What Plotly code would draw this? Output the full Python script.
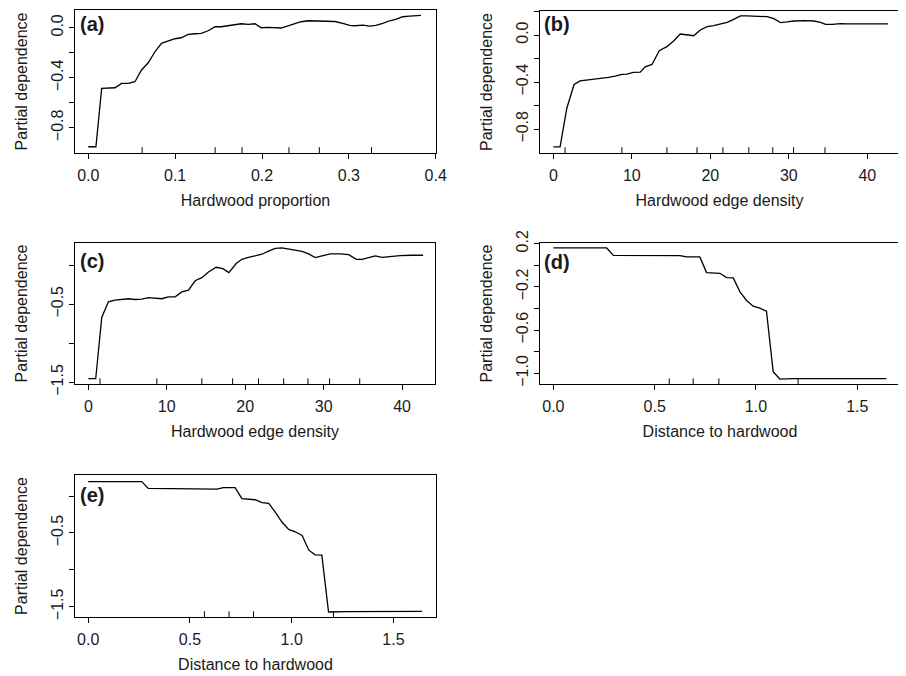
import plotly.graph_objects as go

# The page adds an 8px body margin, so the figure is drawn 8px smaller and
# every pixel position below is measured in reference-page pixels minus OFF.
OFF = 8
W, H = 906 - OFF, 676 - OFF

# ---------------- data ----------------
# (a) Hardwood proportion
a_x = [0.0, 0.0088, 0.0154, 0.0307, 0.0383, 0.046, 0.0537, 0.0613, 0.069, 0.0767, 0.0843,
       0.092, 0.0997, 0.107, 0.115, 0.1226, 0.130, 0.138, 0.146, 0.153, 0.161, 0.169, 0.176,
       0.184, 0.192, 0.199, 0.207, 0.222, 0.230, 0.2376, 0.245, 0.253, 0.268, 0.284, 0.293,
       0.301, 0.307, 0.316, 0.324, 0.331, 0.339, 0.347, 0.354, 0.362, 0.370, 0.383]
a_y = [-0.952, -0.952, -0.485, -0.48, -0.445, -0.445, -0.432, -0.338, -0.28, -0.192, -0.125,
       -0.104, -0.088, -0.080, -0.053, -0.048, -0.045, -0.024, 0.008, 0.008, 0.016, 0.019, 0.032,
       0.027, 0.032, 0.0, 0.003, -0.002, 0.016, 0.035, 0.048, 0.056, 0.056, 0.050, 0.035,
       0.019, 0.016, 0.021, 0.013, 0.019, 0.035, 0.056, 0.067, 0.088, 0.093, 0.099]
a_rug = [0.062, 0.146, 0.177, 0.231, 0.266, 0.326]

# (b) Hardwood edge density
b_x = [0, 0.86, 1.71, 2.64, 3.41, 4.26, 5.1, 6.17, 7.02, 7.87, 8.73, 9.37, 10.2, 11.07, 11.7,
       12.56, 13.49, 14.47, 15.32, 16.17, 17.03, 17.87, 18.72, 19.58, 20.42, 21.28, 22.13,
       22.97, 23.83, 24.68, 26.16, 27.24, 28.08, 28.94, 29.79, 30.63, 31.91, 33.19, 34.04,
       34.68, 35.53, 36.59, 37.45, 39.14, 40.84, 42.63]
b_y = [-0.950, -0.950, -0.624, -0.42, -0.389, -0.383, -0.374, -0.369, -0.36, -0.349, -0.335,
       -0.332, -0.318, -0.315, -0.27, -0.25, -0.133, -0.099, -0.051, 0.0085, 0.003, -0.006,
       0.043, 0.071, 0.079, 0.094, 0.108, 0.133, 0.162, 0.162, 0.162, 0.156, 0.139, 0.105,
       0.111, 0.119, 0.122, 0.119, 0.108, 0.091, 0.091, 0.097, 0.094, 0.091, 0.094, 0.094]
b_rug = [1.49, 8.73, 14.47, 18.3, 21.6, 24.9, 27.95, 30.6, 34.6]

# (c) Hardwood edge density
c_x = [0, 0.94, 1.71, 2.56, 3.41, 4.47, 5.11, 5.96, 6.81, 7.66, 8.51, 9.37, 10.2, 11.07, 11.92,
       12.77, 13.62, 14.47, 15.32, 16.3, 17.15, 17.92, 18.85, 19.58, 20.42, 21.28, 22.13,
       22.97, 23.83, 24.68, 25.53, 26.38, 27.24, 28.08, 28.94, 29.79, 30.85, 32.13, 33.19,
       34.17, 34.89, 35.74, 36.59, 37.45, 38.51, 39.78, 41.28, 42.68]
c_y = [-1.453, -1.453, -0.67, -0.47, -0.449, -0.44, -0.43, -0.44, -0.435, -0.415, -0.423,
       -0.43, -0.406, -0.406, -0.343, -0.32, -0.2, -0.16, -0.087, -0.028, -0.045, -0.096,
       0.02, 0.074, 0.1, 0.118, 0.139, 0.18, 0.215, 0.22, 0.206, 0.198, 0.177, 0.143, 0.096,
       0.118, 0.143, 0.143, 0.134, 0.074, 0.074, 0.096, 0.118, 0.1, 0.113, 0.121, 0.126, 0.126]
c_rug = [1.49, 8.73, 14.47, 18.4, 21.7, 24.9, 28.0, 30.76, 34.6]

# (d) Distance to hardwood
d_x = [0, 0.263, 0.296, 0.428, 0.625, 0.658, 0.723, 0.756, 0.789, 0.822, 0.855, 0.888, 0.921,
       0.953, 0.986, 1.019, 1.052, 1.085, 1.118, 1.183, 1.644]
d_y = [0.16, 0.16, 0.092, 0.092, 0.089, 0.077, 0.077, -0.068, -0.071, -0.074, -0.114, -0.117,
       -0.246, -0.323, -0.378, -0.397, -0.425, -0.985, -1.052, -1.049, -1.049]
d_rug = [0.572, 0.690, 0.817, 1.208]

# (e) Distance to hardwood
e_x = [0, 0.263, 0.295, 0.467, 0.632, 0.664, 0.722, 0.755, 0.789, 0.82, 0.854, 0.887, 0.92,
       0.951, 0.985, 1.017, 1.051, 1.084, 1.115, 1.148, 1.181, 1.271, 1.64]
e_y = [0.195, 0.195, 0.104, 0.095, 0.095, 0.113, 0.113, -0.036, -0.045, -0.05, -0.09, -0.1,
       -0.222, -0.348, -0.452, -0.484, -0.534, -0.733, -0.796, -0.801, -1.570, -1.566, -1.561]
e_rug = [0.571, 0.692, 0.812, 1.205]

panel_labels = ["(a)", "(b)", "(c)", "(d)", "(e)"]
x_titles = ["Hardwood proportion", "Hardwood edge density", "Hardwood edge density",
            "Distance to hardwood", "Distance to hardwood"]
y_title = "Partial dependence"

a_xt = [0.0, 0.1, 0.2, 0.3, 0.4]; a_xl = ["0.0", "0.1", "0.2", "0.3", "0.4"]
b_xt = [0, 10, 20, 30, 40]; b_xl = ["0", "10", "20", "30", "40"]
d_xt = [0.0, 0.5, 1.0, 1.5]; d_xl = ["0.0", "0.5", "1.0", "1.5"]

a_yt = [0.0, -0.2, -0.4, -0.6, -0.8]; a_yl = ["0.0", "", "\u22120.4", "", "\u22120.8"]
b_yt = [0.2, 0.0, -0.2, -0.4, -0.6, -0.8]; b_yl = ["", "0.0", "", "\u22120.4", "", "\u22120.8"]
c_yt = [0.0, -0.5, -1.0, -1.5]; c_yl = ["", "\u22120.5", "", "\u22121.5"]
d_yt = [0.2, 0.0, -0.2, -0.4, -0.6, -0.8, -1.0]
d_yl = ["0.2", "", "\u22120.2", "", "\u22120.6", "", "\u22121.0"]

# ---------------- layout ----------------
# frame boxes in reference-page pixels (x0, x1, y0, y1); label offset (dx, dy) inside frame
panels = [
    (a_x, a_y, a_rug, a_xt, a_xl, a_yt, a_yl, [-0.0153, 0.4003], [-1.002, 0.142], (75, 436, 10, 153), (3, 14)),
    (b_x, b_y, b_rug, b_xt, b_xl, b_yt, b_yl, [-1.70, 44.03], [-1.002, 0.204], (540, 899, 11, 153), (2, 13)),
    (c_x, c_y, c_rug, b_xt, b_xl, c_yt, c_yl, [-1.70, 44.2], [-1.521, 0.283], (75, 435, 243, 384), (3, 18)),
    (d_x, d_y, d_rug, d_xt, d_xl, d_yt, d_yl, [-0.066, 1.711], [-1.098, 0.206], (540, 900, 243, 384), (2, 19)),
    (e_x, e_y, e_rug, d_xt, d_xl, c_yt, c_yl, [-0.065, 1.709], [-1.638, 0.285], (75, 436, 475, 617), (3, 20)),
]

FONT = "Liberation Sans, Arial, Helvetica, sans-serif"
INK = "#1a1a1a"

fig = go.Figure()
layout = dict(width=W, height=H, autosize=False, margin=dict(l=0, r=0, t=0, b=0, pad=0),
              paper_bgcolor="white", plot_bgcolor="white", showlegend=False,
              font=dict(family=FONT, size=16, color=INK))
shapes = []
annotations = []

for i, (xs, ys, rug, xt, xl, yt, yl, xr, yr, fr, lo) in enumerate(panels):
    n = "" if i == 0 else str(i + 1)
    xa, ya = "x" + n, "y" + n
    fig.add_trace(go.Scatter(x=xs, y=ys, mode="lines", xaxis=xa, yaxis=ya,
                             line=dict(color="black", width=1.3), hoverinfo="skip"))
    x0, x1, y0, y1 = [v - OFF for v in fr]
    common = dict(showgrid=False, zeroline=False, showline=True, mirror=True,
                  linecolor="black", linewidth=1, ticks="outside", ticklen=5,
                  tickwidth=1, tickcolor="black", tickmode="array", automargin=False,
                  tickfont=dict(family=FONT, size=16, color=INK), fixedrange=True)
    layout["xaxis" + n] = dict(common, domain=[x0 / W, x1 / W], range=xr, anchor=ya,
                               tickvals=xt, ticktext=xl, ticklabelstandoff=3,
                               title=dict(text=x_titles[i], standoff=11,
                                          font=dict(family=FONT, size=16, color=INK)))
    layout["yaxis" + n] = dict(common, domain=[1 - y1 / H, 1 - y0 / H], range=yr, anchor=xa,
                               tickvals=yt, ticktext=yl, tickangle=-90,
                               title=dict(text=y_title, standoff=16,
                                          font=dict(family=FONT, size=16, color=INK)))
    for r in rug:
        shapes.append(dict(type="line", xref=xa, yref=ya + " domain", x0=r, x1=r,
                           y0=0, y1=0.04, line=dict(color="black", width=1)))
    annotations.append(dict(text="<b>" + panel_labels[i] + "</b>", xref=xa + " domain",
                            yref=ya + " domain", x=lo[0] / (x1 - x0),
                            y=1 - lo[1] / (y1 - y0), xanchor="left", yanchor="middle",
                            showarrow=False, font=dict(family=FONT, size=20, color=INK)))

layout["shapes"] = shapes
layout["annotations"] = annotations
fig.update_layout(**layout)
fig.write_html("out.html")
